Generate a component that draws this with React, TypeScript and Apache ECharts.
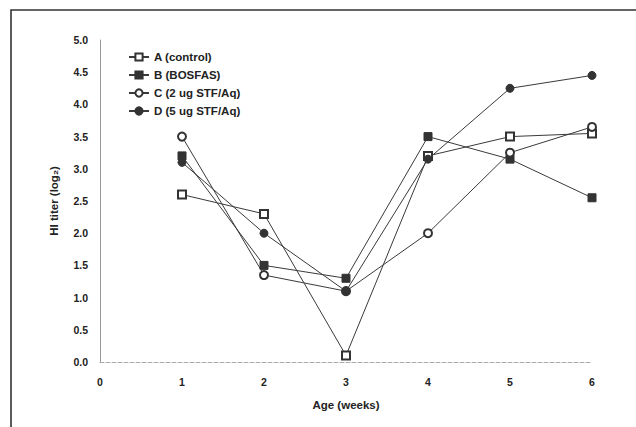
import React, { useEffect, useRef } from "react";
import * as echarts from "echarts";

const weeks = [1, 2, 3, 4, 5, 6];
const seriesNames = ["A (control)", "B (BOSFAS)", "C (2 ug STF/Aq)", "D (5 ug STF/Aq)"];
const valuesA = [2.6, 2.3, 0.1, 3.2, 3.5, 3.55];
const valuesB = [3.2, 1.5, 1.3, 3.5, 3.15, 2.55];
const valuesC = [3.5, 1.35, 1.1, 2.0, 3.25, 3.65];
const valuesD = [3.1, 2.0, 1.1, 3.15, 4.25, 4.45];
const xTicks = [0, 1, 2, 3, 4, 5, 6];
const yTicks = [0, 0.5, 1, 1.5, 2, 2.5, 3, 3.5, 4, 4.5, 5];

const symbols = ["emptyRect", "rect", "emptyCircle", "circle"];
const allValues = [valuesA, valuesB, valuesC, valuesD];

export default function App() {
  const ref = useRef<HTMLDivElement>(null);
  useEffect(() => {
    if (!ref.current) return;
    const chart = echarts.init(ref.current, null, { renderer: "svg" });
    const font = "'Liberation Sans', Arial, sans-serif";
    chart.setOption({
      animation: false,
      backgroundColor: "#ffffff",
      textStyle: { fontFamily: font },
      grid: { left: 100, right: 44, top: 40, bottom: 65, containLabel: false },
      legend: {
        orient: "vertical",
        left: 123,
        top: 46,
        itemWidth: 20,
        itemHeight: 9,
        itemGap: 6,
        textStyle: { fontFamily: font, fontWeight: "bold", fontSize: 11.5, color: "#222" },
        data: seriesNames,
      },
      xAxis: {
        type: "value",
        min: 0,
        max: 6,
        interval: 1,
        name: "Age (weeks)",
        nameLocation: "middle",
        nameGap: 37,
        nameTextStyle: { fontFamily: font, fontWeight: "bold", fontSize: 11.5, color: "#222" },
        axisLine: { show: true, lineStyle: { color: "#aaa", type: "dashed", width: 1 } },
        axisTick: { show: false },
        splitLine: { show: false },
        axisLabel: {
          margin: 14,
          fontFamily: font,
          fontWeight: "bold",
          fontSize: 10.5,
          color: "#222",
          formatter: (v: number) => (xTicks.includes(v) ? String(v) : ""),
        },
      },
      yAxis: {
        type: "value",
        min: 0,
        max: 5,
        interval: 0.5,
        name: "HI titer (log\u2082)",
        nameLocation: "middle",
        nameGap: 40,
        nameRotate: 90,
        nameTextStyle: { fontFamily: font, fontWeight: "bold", fontSize: 11.5, color: "#222" },
        axisLine: { show: true, lineStyle: { color: "#999", width: 1 } },
        axisTick: { show: false },
        splitLine: { show: false },
        axisLabel: {
          margin: 12,
          fontFamily: font,
          fontWeight: "bold",
          fontSize: 10.5,
          color: "#222",
          formatter: (v: number) => (yTicks.includes(v) ? v.toFixed(1) : ""),
        },
      },
      graphic: [
        {
          type: "rect",
          silent: true,
          shape: { x: 11, y: 10, width: 700, height: 500 },
          style: { fill: "none", stroke: "#333", lineWidth: 1.6 },
        },
      ],
      series: seriesNames.map((name, i) => ({
        name,
        type: "line",
        data: weeks.map((w, j) => [w, allValues[i][j]]),
        symbol: symbols[i],
        symbolSize: 8,
        showSymbol: true,
        z: 2 + i,
        lineStyle: { color: "#3a3a3a", width: 1 },
        itemStyle: { color: "#333", borderColor: "#333", borderWidth: 1 },
      })),
    });
    return () => chart.dispose();
  }, []);
  return (
    <div
      ref={ref}
      style={{ position: "fixed", left: 0, top: 0, width: 636, height: 427, background: "#fff" }}
    />
  );
}
